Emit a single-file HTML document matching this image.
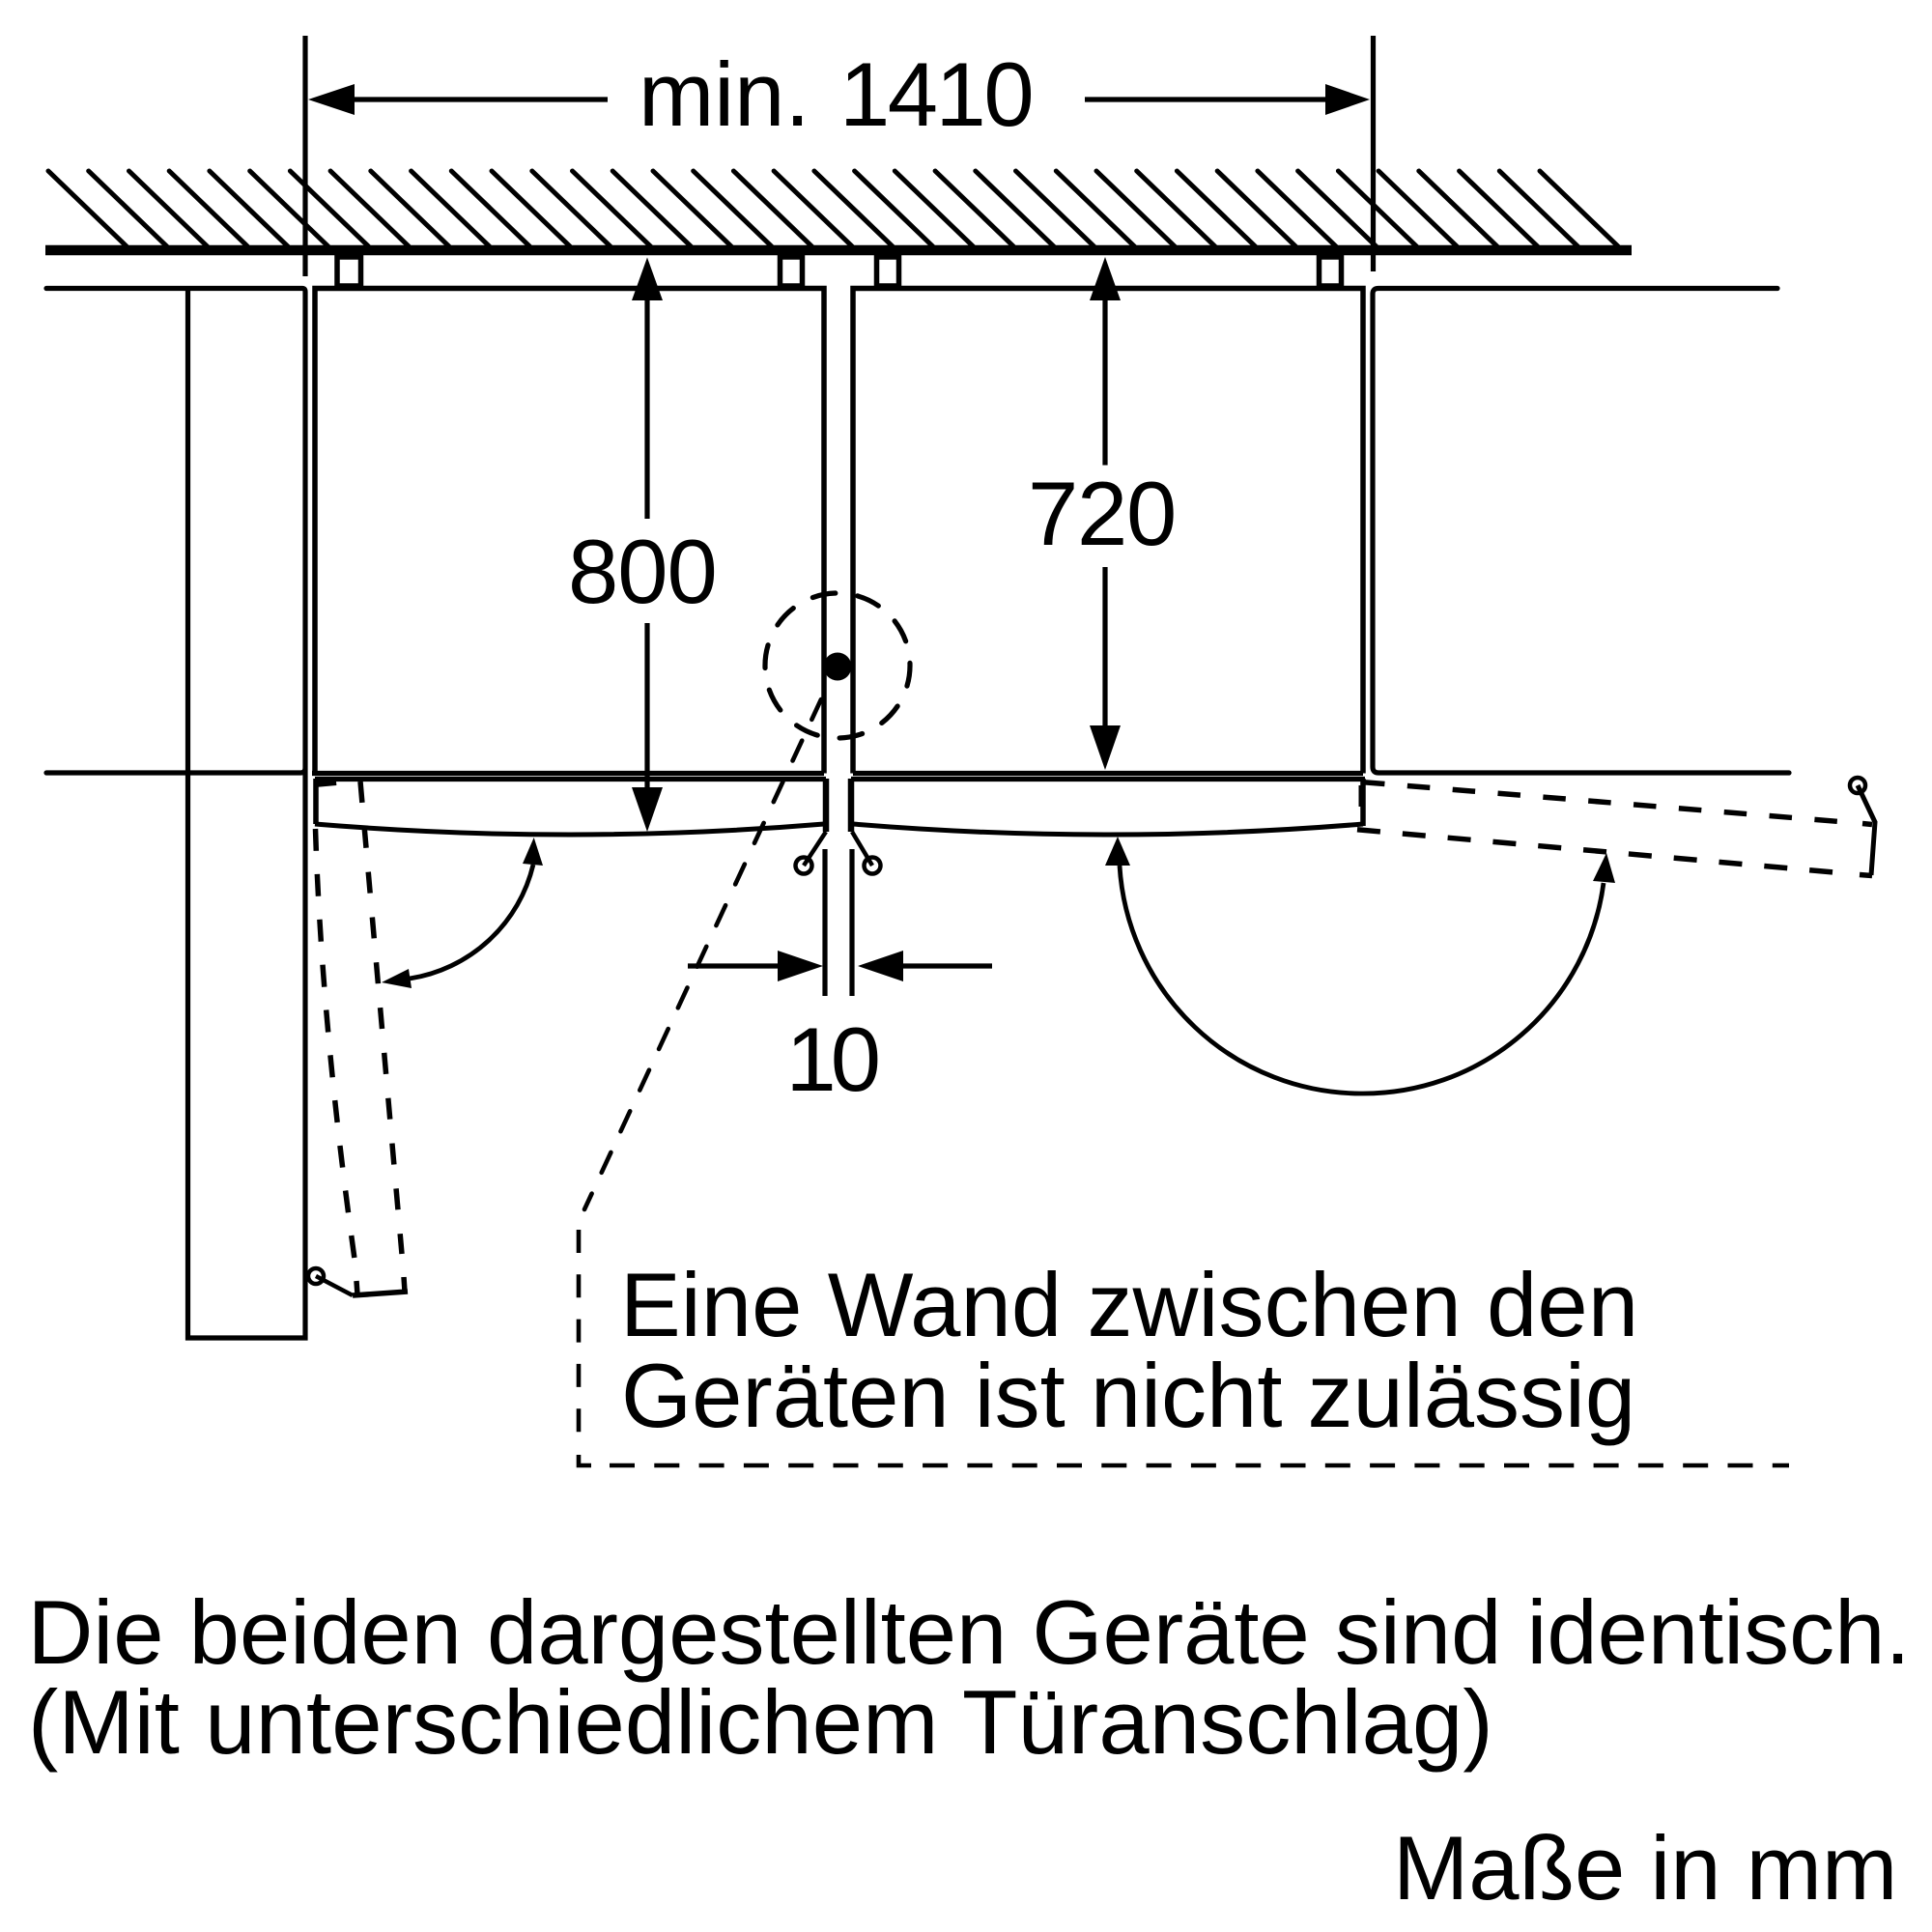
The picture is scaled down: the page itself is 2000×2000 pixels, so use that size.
<!DOCTYPE html>
<html><head><meta charset="utf-8"><style>
html,body{margin:0;padding:0;background:#fff}
svg{display:block}
text{font-family:"Liberation Sans",Arial,sans-serif;font-size:94px;fill:#000}
</style></head><body>
<svg width="2000" height="2000" viewBox="0 0 2000 2000" xmlns="http://www.w3.org/2000/svg">
<rect width="2000" height="2000" fill="#fff"/>
<g fill="none" stroke="#000" stroke-width="5.2" stroke-linecap="butt">
<!-- hatch -->
<path stroke-width="5" stroke-linecap="round" d="M50 177l81 78M91.7 177l81 78M133.5 177l81 78M175.2 177l81 78M216.9 177l81 78M258.7 177l81 78M300.4 177l81 78M342.1 177l81 78M383.8 177l81 78M425.6 177l81 78M467.3 177l81 78M509 177l81 78M550.8 177l81 78M592.5 177l81 78M634.2 177l81 78M676 177l81 78M717.7 177l81 78M759.4 177l81 78M801.1 177l81 78M842.9 177l81 78M884.6 177l81 78M926.3 177l81 78M968.1 177l81 78M1009.8 177l81 78M1051.5 177l81 78M1093.3 177l81 78M1135 177l81 78M1176.7 177l81 78M1218.4 177l81 78M1260.2 177l81 78M1301.9 177l81 78M1343.6 177l81 78M1385.4 177l81 78M1427.1 177l81 78M1468.8 177l81 78M1510.6 177l81 78M1552.3 177l81 78M1594 177l81 78"/>
<path stroke-width="10.5" d="M47 259H1689"/>
<!-- dimension extension lines -->
<path d="M316 37V286M1421.5 37V281"/>
<!-- left cabinet & wall -->
<path stroke-linecap="round" d="M48 298.5H313Q316 298.5 316 302V1385H194.5V298.5M48 800H311Q316 800 316 795"/>
<!-- right wall -->
<path stroke-linecap="round" d="M1840 298.5H1427Q1421 298.5 1421 304V794Q1421 800 1427 800H1852"/>
<!-- fridges -->
<path stroke-width="5.5" d="M326 800.5V298.5H853V800.5M883 800.5V298.5H1411V800.5"/>
<path stroke-width="5.2" d="M323 800.5H853M883 800.5H1411M326 806.5H855M881 806.5H1413"/>
<!-- mounting squares -->
<rect x="349" y="266" width="24.5" height="30" stroke-width="5.5"/>
<rect x="807.5" y="266" width="23" height="30" stroke-width="5.5"/>
<rect x="907.5" y="266" width="23" height="30" stroke-width="5.5"/>
<rect x="1365.5" y="266" width="23" height="30" stroke-width="5.5"/>
<!-- doors -->
<path stroke-width="6.5" d="M855 806V861M881 806V861"/>
<path stroke-width="5.5" d="M1411 806V855"/>
<path stroke-width="3" d="M1408 813V835"/>
<path stroke-width="5.5" d="M327 806V853"/>
<path stroke-width="8" d="M326 811L348 809"/>
<path stroke-width="5" d="M326 853Q590 875 853 853M883 853Q1147 875 1411 853"/>
<!-- hinges -->
<path stroke-width="4.5" d="M855 861L832 896M882 861L903 896"/>
<circle cx="832" cy="896" r="8.5" stroke-width="4.5"/>
<circle cx="903" cy="896" r="8.5" stroke-width="4.5"/>
<!-- 10 dimension -->
<path d="M854 879V1031M882 879V1031M712 1000H805M935 1000H1027"/>
<!-- main dimensions -->
<path d="M367 103H629M1123 103H1372M670 311V537M670 645V815M1144 311V481.5M1144 587V751"/>
<!-- dashed circle -->
<circle cx="867" cy="689" r="75" stroke-linecap="round" stroke-dasharray="24 23.12" transform="rotate(250 867 689)"/>
<!-- leader -->
<path stroke-width="4.6" stroke-linecap="round" stroke-dasharray="23 24" d="M850 724L605 1252"/>
<path stroke-width="4.6" stroke-dasharray="24 22.3" d="M599 1273V1500"/>
<path stroke-width="4.6" d="M599 1506V1517H612"/>
<path stroke-width="4.6" stroke-dasharray="26 20.3" d="M631 1517H1852"/>
<!-- left open door dashed -->
<path stroke-width="5.5" stroke-dasharray="23 24" d="M326.5 858Q333 1060 367 1303"/>
<path stroke-width="5.5" stroke-dasharray="22 25" d="M373 809L416 1298"/>
<path stroke-width="5.5" d="M369 1326L370 1340M418 1322L419 1337M365 1341L422 1337"/>
<circle cx="327" cy="1321" r="8" stroke-width="4.5"/>
<path stroke-width="4.5" d="M327 1321L365 1341"/>
<!-- right open door dashed -->
<path stroke-width="5.5" stroke-dasharray="23.5 23.5" d="M1410 809.6L1904 850.5"/>
<path stroke-width="5.5" d="M1928 852.5L1938 853.5M1925 905.5L1938 906.5"/>
<path stroke-width="5.5" stroke-dasharray="24 23" d="M1405 858.8L1901 903.2"/>
<path stroke-width="5" d="M1937 906L1941 851L1923 813"/>
<circle cx="1923" cy="813" r="8" stroke-width="4.5"/>
<!-- swing arcs -->
<path stroke-width="4.8" d="M552 895A156 156 0 0 1 424 1013"/>
<path stroke-width="4.8" d="M1159 896A251 251 0 0 0 1408 1132A251 251 0 0 0 1660 914"/>
</g>
<!-- arrowheads -->
<g fill="#000" stroke="none">
<path d="M319 103L367 87V119Z"/>
<path d="M1418 103L1372 87V119Z"/>
<path d="M670 266.5L686 311H654Z"/>
<path d="M670 861L654 815H686Z"/>
<path d="M1144 266L1160 311H1128Z"/>
<path d="M1144 797L1128 751H1160Z"/>
<path d="M852 1000L805 984V1016Z"/>
<path d="M888 1000L935 984V1016Z"/>
<path d="M552.7 867L562 896L541 894Z"/>
<path d="M395 1017L423 1003L426 1023Z"/>
<path d="M1157 866L1170 896H1144Z"/>
<path d="M1663 883L1672 914L1649 912Z"/>
<circle cx="867" cy="690" r="14.5"/>
</g>
<text x="661" y="130">min.</text>
<text x="869" y="130" letter-spacing="-2.5">1410</text>
<text x="588" y="624" letter-spacing="-1">800</text>
<text x="1064" y="564" letter-spacing="-1.25">720</text>
<text x="813.5" y="1129" letter-spacing="-6">10</text>
<text x="642" y="1383" letter-spacing="0.1">Eine Wand zwischen den</text>
<text x="643" y="1477">Geräten ist nicht zulässig</text>
<text x="28.5" y="1722">Die beiden dargestellten Geräte sind identisch.</text>
<text x="29" y="1815" letter-spacing="0.1">(Mit unterschiedlichem Türanschlag)</text>
<text x="1442" y="1966">Maße in mm</text>
</svg>
</body></html>
